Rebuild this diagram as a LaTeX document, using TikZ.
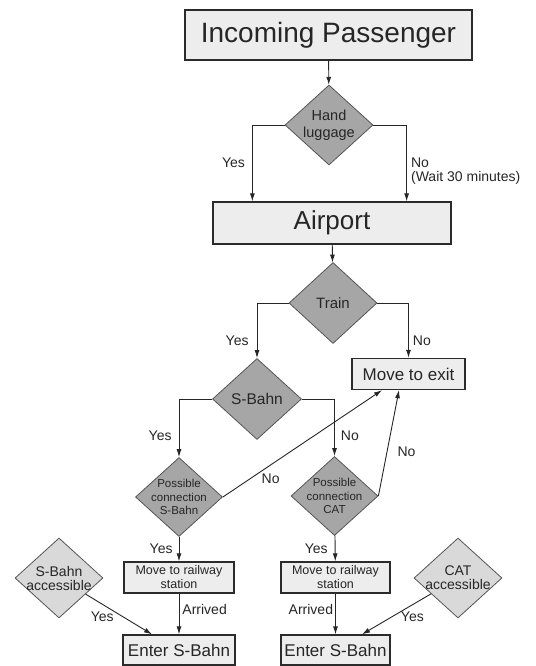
\documentclass[tikz,border=0pt]{standalone}
\usepackage{fontspec}
\setmainfont{Liberation Sans}
\usetikzlibrary{shapes.geometric}
\usetikzlibrary{arrows.meta}
\tikzset{>={Latex[length=8pt,width=5pt]}}
\definecolor{boxfill}{HTML}{EDEDED}
\definecolor{diafill}{HTML}{A6A6A6}
\definecolor{softfill}{HTML}{D9D9D9}
\definecolor{edgegray}{HTML}{2B2B2B}
\tikzstyle{box line}=[line width=1.3pt,draw=edgegray]
\tikzstyle{plain box}=[box line,fill=boxfill,rectangle,inner sep=0pt,align=center,text=black!85]
\tikzstyle{decision}=[line width=0.8pt,draw=edgegray!80,fill=diafill,diamond,inner sep=-10pt,minimum width=88pt,minimum height=80pt,align=center,text=black!85,font=\fontsize{15}{17}\selectfont]
\tikzstyle{soft decision}=[decision,fill=softfill,font=\fontsize{14}{14}\selectfont]
\tikzstyle{flow}=[->,line width=0.9pt,draw=black!85]
\tikzstyle{tag}=[font=\fontsize{14}{14}\selectfont,inner sep=2pt,text=black!85]

\begin{document}
\begin{tikzpicture}[x=1pt,y=-1pt]
	\useasboundingbox (0,0) rectangle (535,666);

	% Top part
	\node[plain box,minimum width=287pt,minimum height=50pt,font=\fontsize{28}{30}\selectfont] (inc) at (328.5,35) {Incoming Passenger};
	\node[decision,font=\fontsize{14.5}{17}\selectfont] (hand) at (329,125) {Hand\\luggage};
	\node[plain box,minimum width=238pt,minimum height=42pt,font=\fontsize{26}{28}\selectfont] (air) at (332,223) {Airport};
	\node[decision,minimum height=81pt] (train) at (333,303) {Train};
	\node[plain box,minimum width=113pt,minimum height=31pt,font=\fontsize{17}{19}\selectfont] (exit) at (408.5,374) {Move to exit};

	% Train branches
	\node[decision,minimum width=89pt,minimum height=81pt,font=\fontsize{15.5}{17}\selectfont] (sbahn) at (257,399) {S-Bahn};
	\node[decision,minimum width=87pt,minimum height=79pt,font=\fontsize{11.5}{13.5}\selectfont] (pcs) at (179,497) {Possible\\connection\\S-Bahn};
	\node[decision,minimum width=87pt,minimum height=79pt,font=\fontsize{11.5}{13.5}\selectfont] (pcc) at (334.5,496) {Possible\\connection\\CAT};

	% Bottom row
	\node[plain box,minimum width=110pt,minimum height=31pt,font=\fontsize{12.5}{14}\selectfont] (mrs1) at (179,577.5) {Move to railway\\station};
	\node[plain box,minimum width=109pt,minimum height=31pt,font=\fontsize{12.5}{14}\selectfont] (mrs2) at (335.5,577.5) {Move to railway\\station};
	\node[plain box,minimum width=112pt,minimum height=30pt,font=\fontsize{17}{19}\selectfont] (ent1) at (179,650) {Enter S-Bahn};
	\node[plain box,minimum width=109pt,minimum height=30pt,font=\fontsize{17}{19}\selectfont] (ent2) at (335.5,650) {Enter S-Bahn};
	\node[soft decision] (sacc) at (59,578) {S-Bahn\\accessible};
	\node[soft decision] (cacc) at (458,578) {CAT\\accessible};

	% Connectors
	\draw[flow] (inc) -- (hand);
	\draw[flow] (hand.west) -| ([xshift=40pt]air.north west) node[tag,pos=0.745,left=5pt] {Yes};
	\draw[flow] (hand.east) -| ([xshift=-45pt]air.north east) node[tag,pos=0.8,right=2pt,align=left] {No\\(Wait 30 minutes)};
	\draw[flow] (air) -- (train);
	\draw[flow] (train.west) -| (sbahn.north) node[tag,pos=0.84,left=6pt] {Yes};
	\draw[flow] (train.east) -| (exit.north) node[tag,pos=0.84,right=2pt] {No};
	\draw[flow] (sbahn.west) -| (pcs.north) node[tag,pos=0.82,left=5pt] {Yes};
	\draw[flow] (sbahn.east) -| (pcc.north) node[tag,pos=0.82,right=4pt] {No};
	\draw[flow] (pcs.east) -- ([xshift=-26.5pt]exit.south) node[tag,pos=0.3,below=6pt] {No};
	\draw[flow] (pcc.east) -- ([xshift=-9.5pt]exit.south) node[tag,pos=0.42,right=8pt] {No};
	\draw[flow] (pcs) -- (mrs1) node[tag,midway,left=4pt] {Yes};
	\draw[flow] (pcc) -- (mrs2) node[tag,midway,left=5pt] {Yes};
	\draw[flow] (mrs1) -- (ent1) node[tag,pos=0.4,right=1pt] {Arrived};
	\draw[flow] (mrs2) -- (ent2) node[tag,pos=0.4,left=0pt] {Arrived};
	\draw[flow] (sacc) -- ([xshift=-27pt]ent1.north) node[tag,pos=0.25,below=5pt] {Yes};
	\draw[flow] (cacc) -- ([xshift=26.5pt]ent2.north) node[tag,pos=0.27,below=5pt] {Yes};
\end{tikzpicture}
\end{document}
